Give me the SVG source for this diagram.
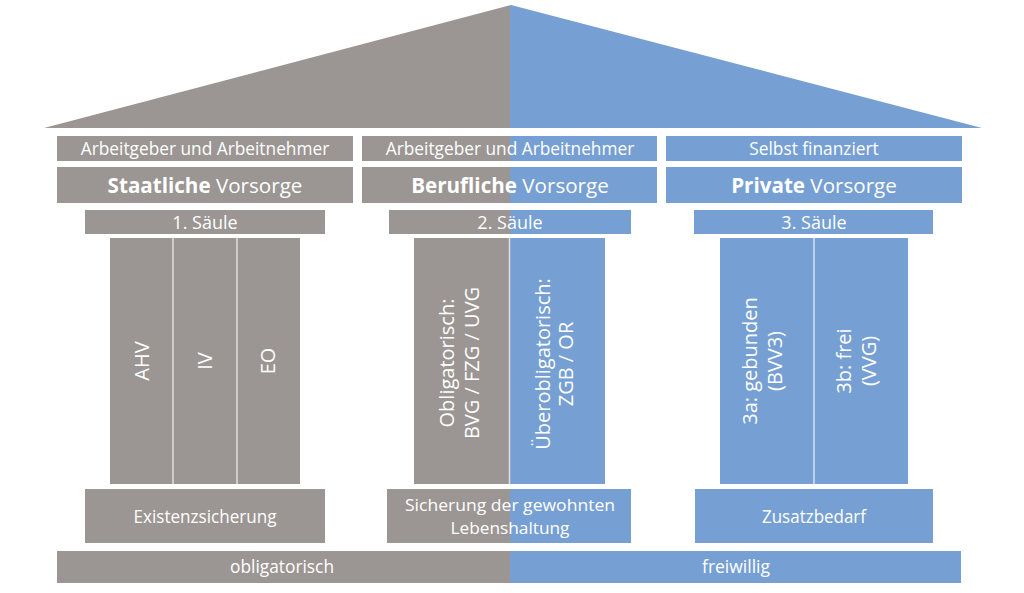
<svg xmlns="http://www.w3.org/2000/svg" width="1024" height="593" viewBox="0 0 1024 593">
<defs>
<linearGradient id="split" gradientUnits="userSpaceOnUse" x1="0" y1="0" x2="1024" y2="0">
<stop offset="0.4985" stop-color="#9b9593"/>
<stop offset="0.4985" stop-color="#769fd3"/>
</linearGradient>
</defs>
<style>
.g{fill:#9b9593}
.b{fill:#769fd3}
.s{fill:url(#split)}
text{font-family:"Open Sans","Noto Sans","DejaVu Sans",sans-serif;fill:#ffffff;text-anchor:middle}
.t1{font-size:17.3px}
.t2{font-size:20.6px}
.t2 .bd{font-weight:bold}
.t3{font-size:18px}
.v{font-size:20px}
.c{font-size:18.5px}
.c2{font-size:17px}
.div{stroke:#ffffff;stroke-width:1.5;opacity:0.7}
</style>
<rect width="1024" height="593" fill="#ffffff"/>
<g id="roof">
<polygon class="s" points="44,128 511,5 982,128"/>
</g>
<g id="col1-fin">
<rect class="g" x="57" y="136" width="296" height="25"/>
<text class="t1" x="205" y="155">Arbeitgeber und Arbeitnehmer</text>
</g>
<g id="col2-fin">
<rect class="s" x="362" y="136" width="295" height="25"/>
<text class="t1" x="510" y="155">Arbeitgeber und Arbeitnehmer</text>
</g>
<g id="col3-fin">
<rect class="b" x="666" y="136" width="296" height="25"/>
<text class="t1" x="814" y="155">Selbst finanziert</text>
</g>
<g id="col1-title">
<rect class="g" x="57" y="167" width="296" height="36"/>
<text class="t2" x="205" y="192.5"><tspan class="bd">Staatliche</tspan> Vorsorge</text>
</g>
<g id="col2-title">
<rect class="s" x="362" y="167" width="295" height="36"/>
<text class="t2" x="510" y="192.5"><tspan class="bd">Berufliche</tspan> Vorsorge</text>
</g>
<g id="col3-title">
<rect class="b" x="666" y="167" width="296" height="36"/>
<text class="t2" x="814" y="192.5"><tspan class="bd">Private</tspan> Vorsorge</text>
</g>
<g id="saeule1">
<rect class="g" x="85" y="210" width="240" height="24"/>
<text class="t3" x="205" y="228.5">1. Säule</text>
</g>
<g id="saeule2">
<rect class="s" x="389" y="210" width="242" height="24"/>
<text class="t3" x="510" y="228.5">2. Säule</text>
</g>
<g id="saeule3">
<rect class="b" x="694" y="210" width="239" height="24"/>
<text class="t3" x="814" y="228.5">3. Säule</text>
</g>
<g id="pillar1">
<rect class="g" x="110" y="238" width="190" height="246"/>
<line class="div" x1="173" y1="238" x2="173" y2="484"/>
<line class="div" x1="237" y1="238" x2="237" y2="484"/>
<text class="v" transform="translate(149,361) rotate(-90)">AHV</text>
<text class="v" transform="translate(212,361) rotate(-90)">IV</text>
<text class="v" transform="translate(275,361) rotate(-90)">EO</text>
</g>
<g id="pillar2">
<rect class="g" x="414" y="238" width="96" height="246"/>
<rect class="b" x="510" y="238" width="95" height="246"/>
<line class="div" x1="509.5" y1="238" x2="509.5" y2="484"/>
<text class="v" transform="translate(454,363) rotate(-90)">Obligatorisch:</text>
<text class="v" transform="translate(479,363) rotate(-90)">BVG / FZG / UVG</text>
<text class="v" transform="translate(550,364) rotate(-90)">Überobligatorisch:</text>
<text class="v" transform="translate(573,364) rotate(-90)">ZGB / OR</text>
</g>
<g id="pillar3">
<rect class="b" x="720" y="238" width="188" height="246"/>
<line class="div" x1="814" y1="238" x2="814" y2="484"/>
<text class="v" transform="translate(757,361) rotate(-90)">3a: gebunden</text>
<text class="v" transform="translate(782,361) rotate(-90)">(BVV3)</text>
<text class="v" transform="translate(851,361) rotate(-90)">3b: frei</text>
<text class="v" transform="translate(876,361) rotate(-90)">(VVG)</text>
</g>
<g id="purpose1">
<rect class="g" x="85" y="489" width="240" height="54"/>
<text class="c" x="205" y="523" textLength="143" lengthAdjust="spacingAndGlyphs">Existenzsicherung</text>
</g>
<g id="purpose2">
<rect class="s" x="387" y="489" width="244" height="54"/>
<text class="c2" x="510" y="511" textLength="210" lengthAdjust="spacingAndGlyphs">Sicherung der gewohnten</text>
<text class="c2" x="510" y="534" textLength="119" lengthAdjust="spacingAndGlyphs">Lebenshaltung</text>
</g>
<g id="purpose3">
<rect class="b" x="695" y="489" width="238" height="54"/>
<text class="c" x="814" y="523" textLength="104" lengthAdjust="spacingAndGlyphs">Zusatzbedarf</text>
</g>
<g id="base">
<rect class="s" x="57" y="551" width="904" height="32"/>
<text class="c" x="282" y="573" textLength="104" lengthAdjust="spacingAndGlyphs">obligatorisch</text>
<text class="c" x="736" y="573" textLength="68" lengthAdjust="spacingAndGlyphs">freiwillig</text>
</g>
<g id="connectors"></g>
</svg>
